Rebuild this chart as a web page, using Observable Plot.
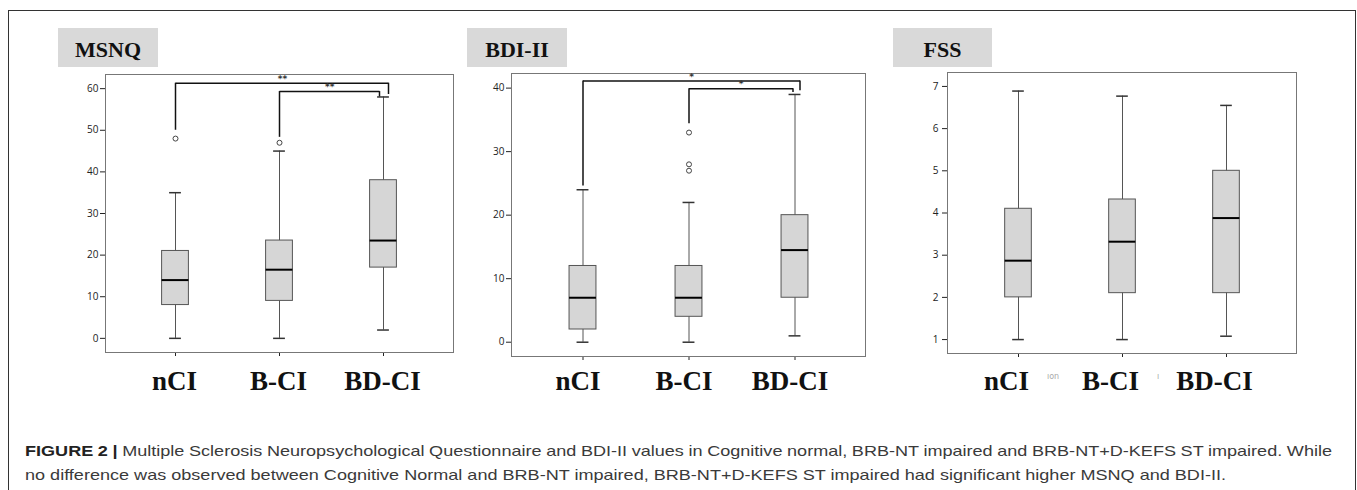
<!DOCTYPE html>
<html>
<head>
<meta charset="utf-8">
<script src="https://cdn.jsdelivr.net/npm/d3@7"></script>
<script src="https://cdn.jsdelivr.net/npm/@observablehq/plot@0.6"></script>
<style>
html, body { margin: 0; padding: 0; background: #fff; width: 1357px; height: 490px; overflow: hidden; }
#fig { position: relative; width: 1357px; height: 490px; }
#border { position: absolute; left: 8px; top: 10px; width: 1348px; height: 520px; border: 1px solid #333; box-sizing: border-box; }
.title { position: absolute; top: 28px; height: 39px; background: #d9d9d9; font: bold 22px "Liberation Serif", serif; text-align: center; line-height: 43px; color: #111; }
.panel { position: absolute; top: 60px; }
.cap { position: absolute; left: 25px; white-space: nowrap; font: 15px "Liberation Sans", Arial, sans-serif; line-height: 20px; color: #3a3a3a; transform-origin: 0 0; }
.cap b { color: #222; }
.artifact { position: absolute; font: 8px "DejaVu Sans", sans-serif; color: #aaa; }
</style>
</head>
<body>
<div id="fig">
  <div id="border"></div>
  <div class="title" style="left:58px;width:100px;">MSNQ</div>
  <div class="title" style="left:467px;width:100px;">BDI-II</div>
  <div class="title" style="left:893px;width:99px;">FSS</div>
  <div class="panel" id="p1" style="left:50px;"></div>
  <div class="panel" id="p2" style="left:460px;"></div>
  <div class="panel" id="p3" style="left:895px;"></div>
  <div class="artifact" style="left:1047px;top:372px;">ıon</div>
  <div class="artifact" style="left:1157px;top:372px;">ı</div>
  <div class="cap" id="cap1"><b>FIGURE 2 |</b> Multiple Sclerosis Neuropsychological Questionnaire and BDI-II values in Cognitive normal, BRB-NT impaired and BRB-NT+D-KEFS ST impaired. While</div>
  <div class="cap" id="cap2">no difference was observed between Cognitive Normal and BRB-NT impaired, BRB-NT+D-KEFS ST impaired had significant higher MSNQ and BDI-II.</div>
</div>
<script>
// ---- data ----
const groups = ["nCI", "B-CI", "BD-CI"];

// MSNQ
const msnqLow    = [0, 0, 2];
const msnqQ1     = [8, 9, 17];
const msnqMedian = [14, 16.5, 23.5];
const msnqQ3     = [21, 23.5, 38];
const msnqHigh   = [35, 45, 58];
const msnqOutlierGroup = ["nCI", "B-CI"];
const msnqOutlierValue = [48, 47];
const msnqTicks = [0, 10, 20, 30, 40, 50, 60];
const msnqBracketFrom  = ["nCI", "B-CI"];
const msnqBracketTo    = ["BD-CI", "BD-CI"];
const msnqBracketStart = [50, 48.3];
const msnqBracketTop   = [61.3, 59.3];
const msnqBracketEnd   = [58.6, 58];
const msnqBracketLabel = ["**", "**"];

// BDI-II
const bdiLow    = [0, 0, 1];
const bdiQ1     = [2, 4, 7];
const bdiMedian = [7, 7, 14.5];
const bdiQ3     = [12, 12, 20];
const bdiHigh   = [24, 22, 39];
const bdiOutlierGroup = ["B-CI", "B-CI", "B-CI"];
const bdiOutlierValue = [33, 28, 27];
const bdiTicks = [0, 10, 20, 30, 40];
const bdiBracketFrom  = ["nCI", "B-CI"];
const bdiBracketTo    = ["BD-CI", "BD-CI"];
const bdiBracketStart = [24.6, 34.4];
const bdiBracketTop   = [41.1, 39.9];
const bdiBracketEnd   = [39.6, 39.3];
const bdiBracketLabel = ["*", "*"];

// FSS
const fssLow    = [1, 1, 1.08];
const fssQ1     = [2.0, 2.1, 2.1];
const fssMedian = [2.87, 3.32, 3.88];
const fssQ3     = [4.1, 4.32, 5.0];
const fssHigh   = [6.89, 6.77, 6.55];
const fssOutlierGroup = [];
const fssOutlierValue = [];
const fssTicks = [1, 2, 3, 4, 5, 6, 7];

// ---- drawing ----
const PAD_INNER = 0.5, PAD_OUTER = 0.4167;

function makePanel(cfg) {
  const {low, q1, median, q3, high, outG, outV, ticks, domain, br,
         width, height, ml, mr, mt, mb, labelDx, labelDy, rightDx, tickPadding} = cfg;
  const rows = groups.map((g, i) => ({g, low: low[i], q1: q1[i], med: median[i], q3: q3[i], high: high[i]}));
  const outliers = outG.map((g, i) => ({g, v: outV[i]}));
  const innerW = width - ml - mr;
  const step = innerW / (groups.length - PAD_INNER + 2 * PAD_OUTER);
  const bw = step * (1 - PAD_INNER);
  const boxInset = (bw - 27) / 2;
  const capInset = (bw - 12) / 2;

  const marks = [
    Plot.frame({stroke: "#777", strokeWidth: 1}),
    Plot.ruleX(rows, {x: "g", y1: "low", y2: "high", stroke: "#555", strokeWidth: 1}),
    Plot.barY(rows, {x: "g", y1: "q1", y2: "q3", fill: "#d6d6d6", stroke: "#555", strokeWidth: 1,
      insetLeft: boxInset, insetRight: boxInset}),
    Plot.tickY(rows, {x: "g", y: "low", insetLeft: capInset, insetRight: capInset, stroke: "#333", strokeWidth: 1.5}),
    Plot.tickY(rows, {x: "g", y: "high", insetLeft: capInset, insetRight: capInset, stroke: "#333", strokeWidth: 1.5}),
    Plot.tickY(rows, {x: "g", y: "med", insetLeft: boxInset, insetRight: boxInset, stroke: "#000", strokeWidth: 2}),
    Plot.dot(outliers, {x: "g", y: "v", r: 2.5, fill: "white", stroke: "#444", strokeWidth: 1}),
    Plot.text(groups, {x: d => d, text: d => d, frameAnchor: "bottom", lineAnchor: "bottom",
      dy: labelDy, dx: labelDx, fontFamily: "Liberation Serif", fontWeight: "bold", fontSize: 27, fill: "#111"})
  ];

  if (br) {
    br.from.forEach((f, i) => {
      const b = [{from: f, to: br.to[i], start: br.start[i], top: br.top[i], end: br.end[i], label: br.label[i]}];
      const rdx = rightDx[i];
      const span = (groups.indexOf(br.to[i]) - groups.indexOf(f)) * step;
      marks.push(
        Plot.ruleX(b, {x: "from", y1: "start", y2: "top", stroke: "#111", strokeWidth: 1.5}),
        Plot.ruleX(b, {x: "to", y1: "end", y2: "top", dx: rdx, stroke: "#111", strokeWidth: 1.5}),
        Plot.arrow(b, {x1: "from", x2: "to", y1: "top", y2: "top", headLength: 0, insetEnd: -rdx,
          stroke: "#111", strokeWidth: 1.5, strokeLinecap: "butt"}),
        Plot.text(b, {x: "from", y: "top", text: "label", dx: (span + rdx) / 2, dy: -1.5, lineAnchor: "bottom",
          fontSize: 9, fontWeight: "bold", fill: "#333", fontFamily: "DejaVu Sans"})
      );
    });
  }

  return Plot.plot({
    width, height,
    marginLeft: ml, marginRight: mr, marginTop: mt, marginBottom: mb,
    style: {fontFamily: "Open Sans", fontSize: "10px", color: "#222", background: "transparent", overflow: "visible"},
    x: {type: "band", domain: groups, paddingInner: PAD_INNER, paddingOuter: PAD_OUTER,
        tickSize: 4, tickFormat: () => "", label: null},
    y: {domain, ticks, tickSize: 5, tickPadding, tickFormat: d => String(d), label: null},
    marks
  });
}

document.getElementById("p1").appendChild(makePanel({
  low: msnqLow, q1: msnqQ1, median: msnqMedian, q3: msnqQ3, high: msnqHigh,
  outG: msnqOutlierGroup, outV: msnqOutlierValue, ticks: msnqTicks, domain: [-3.4, 63.4],
  br: {from: msnqBracketFrom, to: msnqBracketTo, start: msnqBracketStart, top: msnqBracketTop, end: msnqBracketEnd, label: msnqBracketLabel},
  rightDx: [5, -4],
  width: 410, height: 340, ml: 55, mr: 7, mt: 14, mb: 48, labelDx: -1, labelDy: 37, tickPadding: 2
}));

document.getElementById("p2").appendChild(makePanel({
  low: bdiLow, q1: bdiQ1, median: bdiMedian, q3: bdiQ3, high: bdiHigh,
  outG: bdiOutlierGroup, outV: bdiOutlierValue, ticks: bdiTicks, domain: [-2.25, 42.3],
  br: {from: bdiBracketFrom, to: bdiBracketTo, start: bdiBracketStart, top: bdiBracketTop, end: bdiBracketEnd, label: bdiBracketLabel},
  rightDx: [5, -2],
  width: 410, height: 340, ml: 51, mr: 5, mt: 13, mb: 44, labelDx: -5, labelDy: 33, tickPadding: 2
}));

document.getElementById("p3").appendChild(makePanel({
  low: fssLow, q1: fssQ1, median: fssMedian, q3: fssQ3, high: fssHigh,
  outG: fssOutlierGroup, outV: fssOutlierValue, ticks: fssTicks, domain: [0.67, 7.33],
  br: null, rightDx: [],
  width: 410, height: 340, ml: 52, mr: 9, mt: 12, mb: 47, labelDx: -12, labelDy: 36, tickPadding: 4
}));

// caption layout: fit line 2 to the reference width, justify line 1
const cap1 = document.getElementById("cap1");
const cap2 = document.getElementById("cap2");
cap1.style.top = "440.5px";
cap2.style.top = "464.8px";
const w2 = cap2.getBoundingClientRect().width;
const s = 1201 / w2;
cap2.style.transform = `scaleX(${s})`;
const w1 = cap1.getBoundingClientRect().width;
const spaces = (cap1.textContent.match(/ /g) || []).length;
const needed = 1307 / s;
cap1.style.wordSpacing = `${(needed - w1) / spaces}px`;
cap1.style.transform = `scaleX(${s})`;
</script>
</body>
</html>
